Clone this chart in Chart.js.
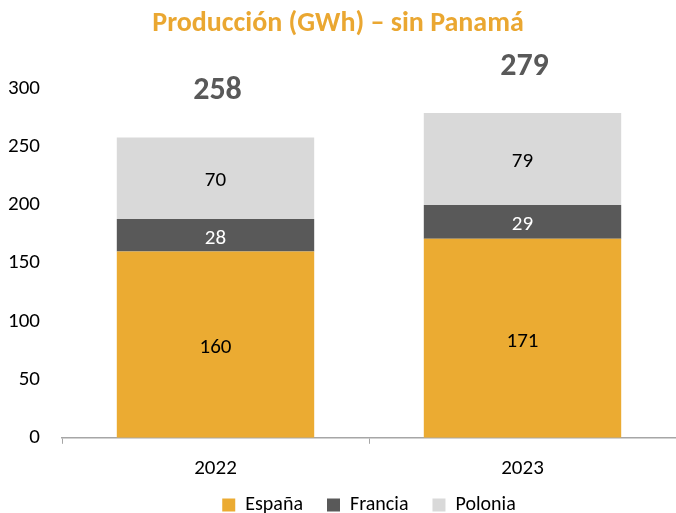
<!DOCTYPE html>
<html>
<head>
<meta charset="utf-8">
<script src="https://cdn.jsdelivr.net/npm/chart.js@4"></script>
<style>
  html, body { margin: 0; padding: 0; background: #fff; }
  #wrap { width: 676px; height: 513px; }
</style>
</head>
<body>
<div id="wrap"><canvas id="c" width="676" height="513"></canvas></div>
<script>
// --- datos ---
const years = ['2022', '2023'];
const espana = [160, 171];
const francia = [28, 29];
const polonia = [70, 79];
const yTicks = [0, 50, 100, 150, 200, 250, 300];

const ORANGE = '#EBAB32';
const DARK = '#595959';
const LIGHT = '#D9D9D9';
const FONT = 'Carlito, Lato, "Open Sans", sans-serif';

const totals = years.map((_, i) => espana[i] + francia[i] + polonia[i]);

// etiquetas dentro de las barras + totales encima
const labelPlugin = {
  id: 'labels',
  afterDatasetsDraw(chart) {
    const ctx = chart.ctx;
    ctx.save();
    ctx.textAlign = 'center';
    ctx.textBaseline = 'middle';
    chart.data.datasets.forEach((ds, di) => {
      const meta = chart.getDatasetMeta(di);
      ctx.font = '21px ' + FONT;
      ctx.fillStyle = ds.labelColor;
      meta.data.forEach((bar, i) => {
        const mid = (bar.y + bar.base) / 2;
        ctx.fillText(ds.data[i], bar.x, mid + 3);
      });
    });
    const y = chart.scales.y;
    const meta0 = chart.getDatasetMeta(0);
    ctx.font = 'bold 32px ' + FONT;
    ctx.fillStyle = DARK;
    totals.forEach((t, i) => {
      ctx.fillText(t, meta0.data[i].x + 2, y.getPixelForValue(t) - 46);
    });
    ctx.restore();
  }
};

// la leyenda se sube un poco: su padding interno la empuja fuera del lienzo
const legendShift = {
  id: 'legendShift',
  afterLayout(chart) {
    chart.legend.top -= 22;
    chart.legend.bottom -= 22;
  }
};

new Chart(document.getElementById('c'), {
  type: 'bar',
  data: {
    labels: years,
    datasets: [
      { label: 'España', data: espana, backgroundColor: ORANGE, labelColor: '#000' },
      { label: 'Francia', data: francia, backgroundColor: DARK, labelColor: '#fff' },
      { label: 'Polonia', data: polonia, backgroundColor: LIGHT, labelColor: '#000' }
    ]
  },
  options: {
    responsive: false,
    animation: false,
    layout: { padding: { left: 0, right: 0, top: 0, bottom: -34 } },
    datasets: { bar: { categoryPercentage: 1, barPercentage: 0.643 } },
    plugins: {
      title: {
        display: true,
        text: 'Producción (GWh) – sin Panamá',
        color: '#EAA731',
        font: { family: FONT, size: 28, weight: 'bold' },
        padding: { top: 7, bottom: 48 }
      },
      legend: {
        position: 'bottom',
        fullSize: false,
        labels: {
          color: '#000',
          font: { family: FONT, size: 20 },
          boxWidth: 13,
          boxHeight: 13,
          padding: 24
        }
      },
      tooltip: { enabled: false }
    },
    scales: {
      x: {
        stacked: true,
        grid: { display: true, drawOnChartArea: false, offset: true, tickLength: 6, color: '#A6A6A6' },
        border: { display: true, color: '#A6A6A6', width: 1.5 },
        ticks: { color: '#000', font: { family: FONT, size: 21 }, padding: 12 }
      },
      y: {
        stacked: true,
        min: 0,
        max: 300,
        afterBuildTicks(axis) { axis.ticks = yTicks.map(v => ({ value: v })); },
        afterFit(axis) { axis.width = 62; },
        grid: { display: false },
        border: { display: false },
        ticks: { color: '#000', font: { family: FONT, size: 21 }, padding: 14 }
      }
    }
  },
  plugins: [labelPlugin, legendShift]
});
</script>
</body>
</html>
